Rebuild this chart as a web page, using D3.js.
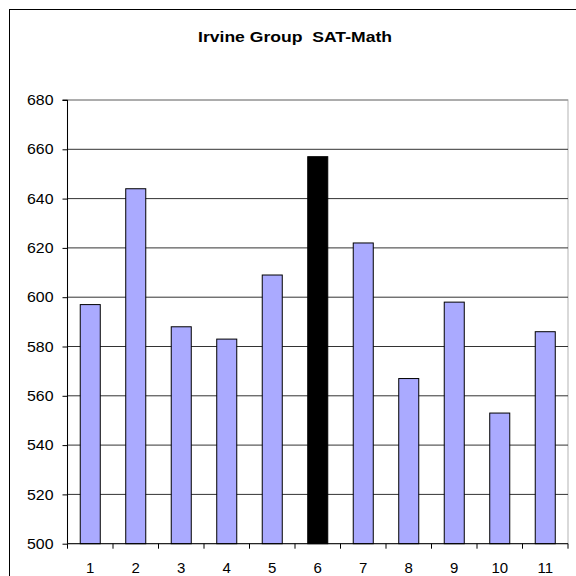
<!DOCTYPE html>
<html><head><meta charset="utf-8">
<script src="https://cdn.jsdelivr.net/npm/d3@7"></script>
<style>body{margin:0;background:#fff}svg{display:block}text{white-space:pre}</style>
</head><body>
<svg id="c" width="576" height="576"></svg>
<script>
const categories = ["1","2","3","4","5","6","7","8","9","10","11"];
const values = [597, 644, 588, 583, 609, 657, 622, 567, 598, 553, 586];
const highlight = ["6"];
const yTicks = [500,520,540,560,580,600,620,640,660,680];
const title = "Irvine Group  SAT-Math";

const svg = d3.select("#c");
const L = 67.5, R = 568, T = 100, B = 543.7;
const font = "'Liberation Sans', Arial, sans-serif";

svg.append("rect").attr("x",9.5).attr("y",9.5).attr("width",700).attr("height",700)
  .attr("fill","#fff").attr("stroke","#000").attr("stroke-width",1);

svg.append("text").attr("x",198).attr("y",42)
  .attr("font-family",font).attr("font-weight","bold").attr("font-size",14.5)
  .attr("textLength",194).attr("lengthAdjust","spacingAndGlyphs")
  .text(title);

const x = d3.scaleBand().domain(categories).range([L,R]).paddingInner(0.56).paddingOuter(0.28);
const y = d3.scaleLinear().domain([500,680]).range([B,T]);

svg.append("rect").attr("x",L).attr("y",T).attr("width",R-L).attr("height",B-T)
  .attr("fill","none").attr("stroke","#c0c0c0").attr("stroke-width",1.2);

svg.append("g").selectAll("line").data(yTicks.filter(v=>v>500)).join("line")
  .attr("x1",L).attr("x2",R).attr("y1",d=>y(d)).attr("y2",d=>y(d))
  .attr("stroke",d=>d===680?"#808080":"#333").attr("stroke-width",1);

svg.append("g").selectAll("rect").data(values).join("rect")
  .attr("x",(d,i)=>x(categories[i])).attr("width",x.bandwidth())
  .attr("y",d=>y(d)).attr("height",d=>B-y(d))
  .attr("fill",(d,i)=>highlight.includes(categories[i])?"#000":"#aaaaff")
  .attr("stroke","#000").attr("stroke-width",1);

const yAxis = d3.axisLeft(y).tickValues(yTicks).tickSize(5).tickPadding(9).tickFormat(d3.format("d"));
const gy = svg.append("g").attr("transform",`translate(${L},0)`).call(yAxis);
gy.select(".domain").attr("stroke","#000").attr("d",`M-5,${T}H0V${B}`);
gy.selectAll("line").attr("stroke","#000");
gy.selectAll("text").attr("font-family",font).attr("font-size",14.5).attr("fill","#000")
  .attr("textLength",26.5).attr("lengthAdjust","spacingAndGlyphs");

const xb = d3.scaleLinear().domain([0,categories.length]).range([L,R]);
const gx = svg.append("g").attr("transform",`translate(0,${B})`);
gx.append("line").attr("x1",L).attr("x2",R).attr("stroke","#000");
gx.selectAll("line.t").data(d3.range(categories.length+1)).join("line").attr("class","t")
  .attr("x1",d=>xb(d)).attr("x2",d=>xb(d)).attr("y1",0).attr("y2",5).attr("stroke","#000");
gx.selectAll("text").data(categories).join("text")
  .attr("x",d=>x(d)+x.bandwidth()/2).attr("y",29).attr("text-anchor","middle")
  .attr("font-family",font).attr("font-size",15).text(d=>d);
</script>
</body></html>
